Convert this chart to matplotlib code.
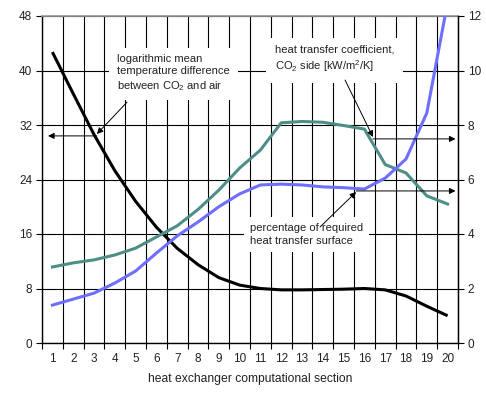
import matplotlib
matplotlib.use("Agg")
import matplotlib.pyplot as plt
from matplotlib.ticker import FixedLocator, NullFormatter
import numpy as np

plt.rcParams['font.family'] = ['Liberation Sans', 'DejaVu Sans']
plt.rcParams['mathtext.fontset'] = 'custom'
plt.rcParams['mathtext.rm'] = 'Liberation Sans'
plt.rcParams['mathtext.default'] = 'regular'

sections = list(range(1, 21))
lmtd = [42.7, 36.6, 30.6, 25.3, 20.8, 17.0, 13.9, 11.5, 9.6, 8.5,
        8.0, 7.8, 7.8, 7.85, 7.9, 8.0, 7.8, 6.9, 5.4, 4.0]
htc = [2.79, 2.94, 3.05, 3.23, 3.48, 3.89, 4.3, 4.9, 5.61, 6.42,
       7.08, 8.08, 8.13, 8.1, 7.98, 7.85, 6.55, 6.24, 5.4, 5.1]
surface = [1.39, 1.61, 1.83, 2.2, 2.64, 3.3, 3.93, 4.44, 5.0, 5.47,
           5.8, 5.83, 5.8, 5.73, 5.7, 5.65, 6.05, 6.75, 8.44, 12.5]
left_ticks = [0, 8, 16, 24, 32, 40, 48]
right_ticks = [0, 2, 4, 6, 8, 10, 12]
xlabel = "heat exchanger computational section"

fig = plt.figure(figsize=(4.86, 3.99), dpi=100)
ax = fig.add_axes([42/486, 1-343/399, (458-42)/486, (343-16)/399])
ax2 = ax.twinx()

# main axis
ax.set_xlim(0.5, 20.5)
ax.set_ylim(0, 48)
bounds = np.arange(0.5, 21.0, 1.0)
ax.xaxis.set_major_locator(FixedLocator(bounds))
ax.xaxis.set_major_formatter(NullFormatter())
ax.xaxis.set_minor_locator(FixedLocator(sections))
ax.set_xticklabels([str(s) for s in sections], minor=True)
ax.tick_params(axis='x', which='major', length=4, width=0.8, direction='out', color='black')
ax.tick_params(axis='x', which='minor', length=0, pad=7, labelsize=8.5, labelcolor='#222222')
ax.set_yticks(left_ticks)
ax.tick_params(axis='y', length=4, width=0.8, pad=3, labelsize=8.5, labelcolor='#222222')
ax.grid(True, which='major', color='black', linewidth=0.8)
ax.set_axisbelow(True)
ax.set_xlabel(xlabel, fontsize=8.7, labelpad=6, color='#222222')
for s in ['left', 'bottom']:
    ax.spines[s].set_color('black')
    ax.spines[s].set_linewidth(1.0)
ax.spines['top'].set_color('#999999')
ax.spines['top'].set_linewidth(1.2)
ax.spines['right'].set_color('black')

ax.plot(sections, lmtd, color='black', linewidth=2.2, solid_capstyle='butt', zorder=3)

# twin axis
ax2.set_ylim(0, 12)
ax2.set_yticks(right_ticks)
ax2.tick_params(axis='y', length=4, width=0.8, pad=3, labelsize=8.5, labelcolor='#222222')
ax2.spines['right'].set_color('black')
ax2.spines['right'].set_linewidth(1.0)
ax2.spines['top'].set_visible(False)
ax2.spines['left'].set_visible(False)
ax2.spines['bottom'].set_visible(False)
ax2.patch.set_visible(False)

ax2.plot(sections, htc, color='#4d8f87', linewidth=2.2, zorder=3)
ax2.plot(sections, surface, color='#6e6eff', linewidth=2.2, zorder=3)

def tprops(pad):
    return dict(fontsize=8, color='#222222', va='top', ha='left', linespacing=1.3,
                bbox=dict(facecolor='white', edgecolor='none', pad=pad))

ax2.text(4.11, 10.62, "logarithmic mean\ntemperature difference\nbetween CO$_2$ and air",
         zorder=5, **tprops(5.5))
ax2.text(11.7, 10.95, "heat transfer coefficient,\nCO$_2$ side [kW/m$^2$/K]",
         zorder=5, **tprops(6.5))
ax2.text(10.5, 4.40, "percentage of required\nheat transfer surface",
         zorder=5, **tprops(4.5))

aprops = dict(arrowstyle='-|>', color='black', lw=0.7, mutation_scale=9, shrinkA=0, shrinkB=0)
# LMTD arrows
ax2.annotate("", xy=(3.14, 7.67), xytext=(4.59, 8.84), arrowprops=aprops, zorder=6)
ax2.annotate("", xy=(0.79, 7.60), xytext=(3.14, 7.60), arrowprops=aprops, zorder=6)
# HTC arrows
ax2.annotate("", xy=(16.41, 7.56), xytext=(15.07, 9.65), arrowprops=aprops, zorder=6)
ax2.annotate("", xy=(20.38, 7.49), xytext=(16.41, 7.49), arrowprops=aprops, zorder=6)
# Surface arrows
ax2.annotate("", xy=(15.6, 5.54), xytext=(13.87, 4.26), arrowprops=aprops, zorder=6)
ax2.annotate("", xy=(20.38, 5.58), xytext=(15.6, 5.58), arrowprops=aprops, zorder=6)

fig.savefig("out.png", dpi=100)
